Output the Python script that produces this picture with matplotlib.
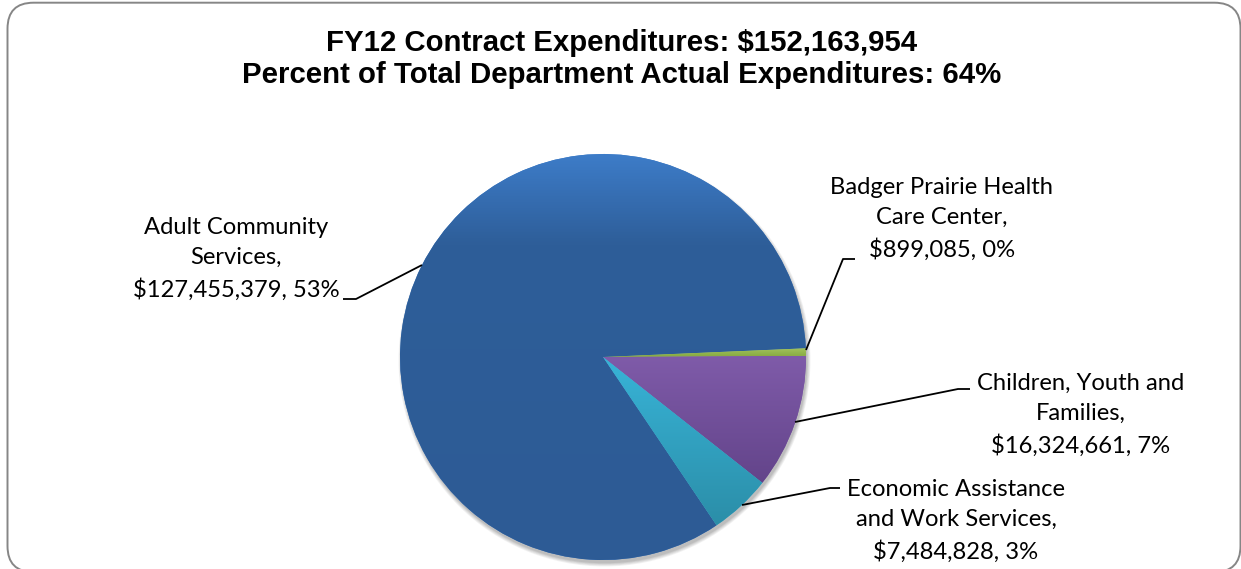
import numpy as np
import matplotlib
matplotlib.use("Agg")
import matplotlib.pyplot as plt
from matplotlib.patches import FancyBboxPatch, Circle
from matplotlib.colors import LinearSegmentedColormap

# ---- data ----
categories = ["Adult Community\nServices", "Badger Prairie Health\nCare Center",
              "Children, Youth and\nFamilies", "Economic Assistance\nand Work Services"]
values = [127455379, 899085, 16324661, 7484828]
pct_of_dept = [53, 0, 7, 3]
title_lines = ["FY12 Contract Expenditures: $152,163,954",
               "Percent of Total Department Actual Expenditures: 64%"]

# gradient stops per slice (top -> bottom)
grads = [
    [(0.0, "#3d7cc8"), (0.22, "#2e5e99"), (1.0, "#2d5b95")],
    [(0.0, "#a2c35e"), (1.0, "#86a93f")],
    [(0.0, "#7f5ba9"), (1.0, "#63448a")],
    [(0.0, "#38b4d8"), (1.0, "#2b8ea8")],
]

W, H = 1241, 569
fig = plt.figure(figsize=(W / 100, H / 100), dpi=100)
ax = fig.add_axes([0, 0, 1, 1])
ax.set_axis_off()

cx, cy, R = 603, H - 357, 203

# soft shadow
for i, a in enumerate([0.05, 0.05, 0.05, 0.06, 0.07]):
    ax.add_patch(Circle((cx + 1.5, cy - 3.5), R + 3 - i * 0.8, facecolor="#000000",
                        alpha=a, edgecolor="none", zorder=1))

wedges, _ = ax.pie(values, startangle=-56, counterclock=False, center=(cx, cy),
                   radius=R, colors=[g[0][1] for g in grads],
                   wedgeprops=dict(edgecolor="none", linewidth=0, zorder=2))

for w, g in zip(wedges, grads):
    ext = w.get_path().get_extents()
    cmap = LinearSegmentedColormap.from_list("g", g)
    grad = np.linspace(0, 1, 256).reshape(-1, 1)
    im = ax.imshow(grad, cmap=cmap, aspect="auto", origin="upper",
                   extent=(ext.x0, ext.x1, ext.y0, ext.y1), zorder=3,
                   interpolation="bilinear")
    im.set_clip_path(w)

ax.set_xlim(0, W)
ax.set_ylim(0, H)
ax.set_aspect("auto")

# frame
frame = FancyBboxPatch((7.5, -3), 1233, 569.3,
                       boxstyle="round,pad=0,rounding_size=26",
                       facecolor="none", edgecolor="#868686", lw=1.4,
                       zorder=10, clip_on=False)
ax.add_patch(frame)

# title
fig.text(622 / W, 1 - 59 / H, "\n".join(title_lines), ha="center", va="center",
         fontsize=21.2, fontweight="bold", family=["Liberation Sans", "DejaVu Sans"],
         linespacing=1.17)

# labels
lab_font = dict(fontsize=17.1, family=["Lato", "DejaVu Sans"], ha="center",
                va="center", linespacing=1.54, zorder=6)
label_pos = [(236, 259), (942, 219), (1081, 415), (956, 521)]
for cat, v, p, (lx, ly) in zip(categories, values, pct_of_dept, label_pos):
    ax.text(lx, H - ly, f"{cat},\n${v:,}, {p}%", **lab_font)

# leader lines (pixel coords from top)
leaders = [
    [(343, 299), (356, 299), (422, 265)],
    [(806, 350), (843, 259), (855, 259)],
    [(795, 422), (958, 389), (970, 389)],
    [(742, 505), (830, 488), (840, 488)],
]
for pts in leaders:
    xs = [p[0] for p in pts]
    ys = [H - p[1] for p in pts]
    ax.plot(xs, ys, color="black", lw=1.3, zorder=7, solid_capstyle="butt")

fig.savefig("out.png", dpi=100)
